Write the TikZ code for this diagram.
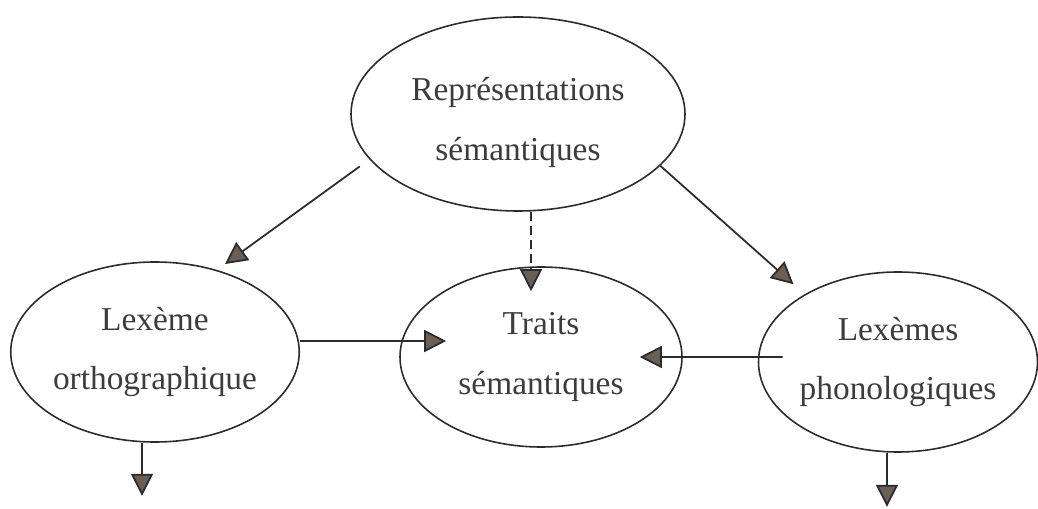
\documentclass[tikz,border=0pt]{standalone}
\usepackage{fontspec}
\setmainfont{Liberation Serif}
\usetikzlibrary{arrows.meta,shapes.geometric}
\definecolor{ink}{HTML}{2B2B2B}
\definecolor{txt}{HTML}{3C3C3C}
\definecolor{headfill}{HTML}{675F5A}
\begin{document}
\begin{tikzpicture}[shape=ellipse,
    oval/.style={draw=ink, line width=0.9pt, inner sep=0pt, minimum width=5.64cm, minimum height=3.6cm,
                 text=txt, align=center, font=\fontsize{19}{34}\selectfont},
    arr/.style={ink, line width=1pt, -{Triangle[length=4.4mm,width=4.4mm,fill=headfill]}}]
    \useasboundingbox (0,0) rectangle (20.76,10.16);

    \node[oval, minimum width=6.68cm, minimum height=3.88cm] (rep) at (10.36,7.88) {\rule{0pt}{0.8cm}Représentations\\sémantiques};
    \node[oval] (orth) at (3.10,3.12) {Lexème\\orthographique};
    \node[oval] (traits) at (10.82,3.02) {Traits\\sémantiques};
    \node[oval, minimum width=5.58cm] (phon) at (17.96,2.92) {Lexèmes\\phonologiques};

    \coordinate (orthout) at ([xshift=-2.6mm,yshift=-10.6mm]orth.south);
    \coordinate (phonout) at ([xshift=-2.2mm,yshift=-10.8mm]phon.south);

    \draw (rep.197) edge[arr, shorten <=2.4mm, shorten >=2mm] (orth.53);
    \draw (rep.340) edge[arr, shorten >=3mm] (phon.144);
    \draw ([xshift=2.6mm]rep.south) edge[arr, dash pattern=on 5pt off 3pt, shorten >=-5mm] ([xshift=2.6mm]rep.south |- traits.north);

    \draw ([yshift=2.2mm]orth.east) edge[arr, shorten >=-9.4mm] ([yshift=2.2mm]orth.east -| traits.west);
    \draw ([yshift=1mm]phon.west) edge[arr, shorten <=-5mm, shorten >=-8.6mm] (traits.east);

    \draw (orth.south -| orthout) edge[arr] (orthout);
    \draw (phon.south -| phonout) edge[arr] (phonout);
\end{tikzpicture}
\end{document}
